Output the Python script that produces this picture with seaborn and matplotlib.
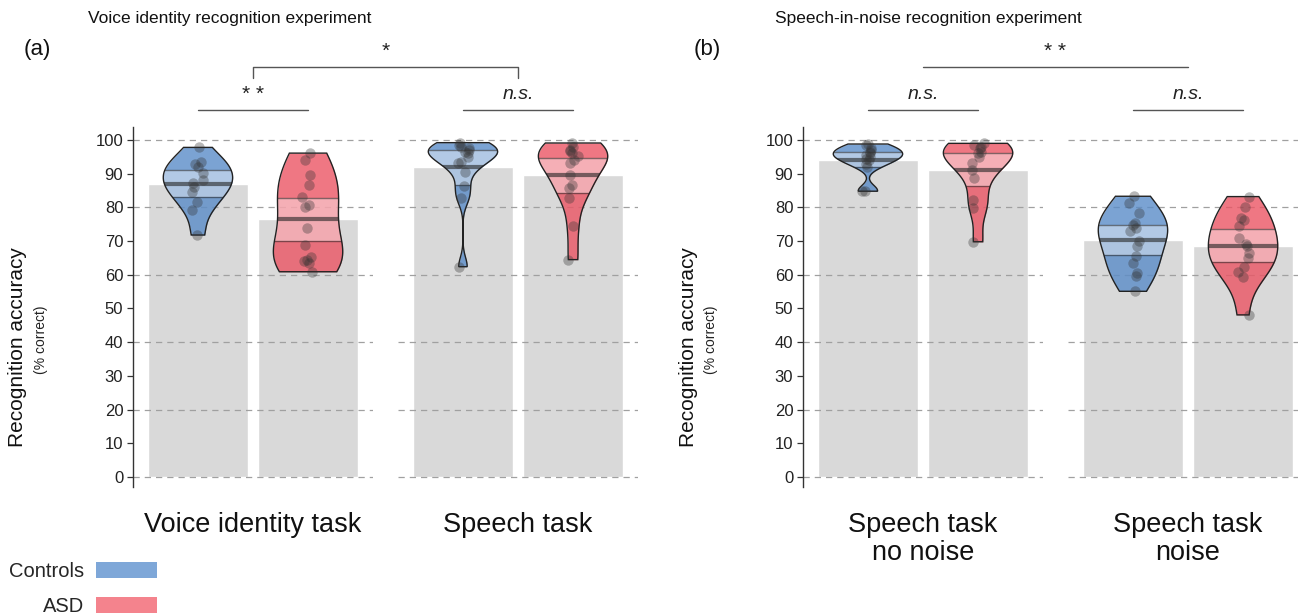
import numpy as np
import pandas as pd
import matplotlib
matplotlib.use("Agg")
import matplotlib.pyplot as plt
import seaborn as sns
from matplotlib.patches import Rectangle, Patch, PathPatch
from matplotlib.lines import Line2D

# ---------------- data ----------------
groups = ["Controls", "ASD"]
tasks_a = ["Voice identity task", "Speech task"]
tasks_b = ["Speech task\nno noise", "Speech task\nnoise"]

ctrl_voice = [97.8, 93.6, 92.9, 92.1, 90.1, 88.0, 87.1, 86.0, 84.7, 81.7, 79.2, 71.8]
asd_voice = [96.1, 94.1, 89.6, 86.6, 83.2, 80.7, 80.2, 73.8, 68.8, 65.4, 64.4, 64.0, 63.4, 60.9]
ctrl_speech = [99.2, 98.5, 98.0, 97.5, 97.0, 96.5, 96.1, 95.0, 93.6, 93.1, 90.6, 86.2, 82.7, 62.4]
asd_speech = [99.1, 98.0, 97.1, 96.6, 96.1, 95.2, 94.2, 93.2, 89.7, 86.7, 85.8, 82.8, 74.4, 64.5]
ctrl_nonoise = [98.8, 98.5, 97.5, 97.0, 96.5, 96.0, 95.5, 95.0, 94.5, 94.0, 93.0, 92.0, 85.0, 84.8]
asd_nonoise = [99.0, 98.5, 98.0, 97.5, 96.5, 96.0, 95.0, 93.3, 91.1, 88.6, 82.2, 79.7, 69.8]
ctrl_noise = [83.3, 81.3, 78.3, 75.4, 74.9, 74.0, 72.9, 69.9, 68.5, 65.5, 63.5, 60.5, 59.6, 55.1]
asd_noise = [83.2, 80.0, 76.8, 76.3, 74.5, 70.8, 69.1, 68.5, 66.4, 64.9, 62.4, 60.9, 59.3, 48.1]

yticks = list(range(0, 101, 10))
sig_a = ["* *", "n.s."]
sig_a_between = "*"
sig_b = ["n.s.", "n.s."]
sig_b_between = "* *"

# ---------------- style ----------------
sns.set_theme(style="white")
plt.rcParams["font.family"] = ["Liberation Sans", "DejaVu Sans"]

violin_cols = {"Controls": "#5A8CC8", "ASD": "#EB5564"}
legend_cols = {"Controls": "#7EA7D8", "ASD": "#F4838D"}
bar_col = "#D9D9D9"
dark = "#222222"

W, H = 1298, 614
fig = plt.figure(figsize=(W / 100, H / 100), dpi=100)

YLIM = (-3, 104)
y_bottom_px, y_top_px = 487.1, 126.5


def add_ax(left_px):
    return fig.add_axes([left_px / W, (H - y_bottom_px) / H, 240 / W,
                         (y_bottom_px - y_top_px) / H])


def nrd0(x):
    x = np.asarray(x, float)
    sd = np.std(x, ddof=1)
    iqr = np.subtract(*np.percentile(x, [75, 25]))
    lo = min(sd, iqr / 1.34) if iqr > 0 else sd
    return 0.9 * lo * len(x) ** (-0.2)


def draw_facet(ax, ctrl, asd, label, show_y):
    df = pd.DataFrame({
        "group": ["Controls"] * len(ctrl) + ["ASD"] * len(asd),
        "value": list(ctrl) + list(asd),
    })
    sns.barplot(data=df, x="group", y="value", order=groups, color=bar_col,
                saturation=1, errorbar=None, width=0.91, ax=ax, zorder=1)
    for v in range(0, 101, 20):
        ax.axhline(v, color="#A0A0A0", lw=0.9, ls=(0, (5, 4)), zorder=1.5)

    for gi, (g, vals) in enumerate(zip(groups, [ctrl, asd])):
        vals = np.asarray(vals, float)
        sub = df[df["group"] == g]
        n_before = len(ax.collections)
        factor = 1.15 * nrd0(vals) / np.std(vals, ddof=1)
        sns.violinplot(data=sub, x="group", y="value", order=groups,
                       color=violin_cols[g], saturation=1, cut=0, inner=None,
                       density_norm="width", width=0.63, linewidth=0,
                       bw_method=factor, ax=ax)
        coll = ax.collections[n_before]
        fc = np.array(coll.get_facecolor())
        fc[:, 3] = 0.8
        coll.set_facecolor(fc)
        coll.set_zorder(2)
        path = coll.get_paths()[0]
        tr = coll.get_transform()

        m = vals.mean()
        se = vals.std(ddof=1) / np.sqrt(len(vals))
        lo, hi = m - 1.96 * se, m + 1.96 * se
        band = Rectangle((gi - 0.5, lo), 1.0, hi - lo, facecolor="white",
                         alpha=0.42, edgecolor="none", zorder=2.1)
        ax.add_patch(band)
        band.set_clip_path(path, tr)
        for yv, lw, a in [(lo, 1.0, 0.55), (hi, 1.0, 0.55), (m, 3.0, 0.6)]:
            ln, = ax.plot([gi - 0.5, gi + 0.5], [yv, yv], color=dark, lw=lw,
                          alpha=a, zorder=2.2, solid_capstyle="butt")
            ln.set_clip_path(path, tr)
        outline = PathPatch(path, transform=tr, facecolor="none",
                            edgecolor=dark, lw=1.0, zorder=2.3)
        ax.add_patch(outline)

    sns.stripplot(data=df, x="group", y="value", order=groups, color="#333333",
                  alpha=0.35, size=7.5, jitter=0.06, linewidth=0, ax=ax, zorder=3)

    ax.set_xlim(-0.59, 1.59)
    ax.set_ylim(*YLIM)
    ax.set_xticks([])
    ax.set_ylabel("")
    ax.set_xlabel(label, fontsize=19.5, labelpad=18, linespacing=1.12,
                  color="#111111")
    for s in ["top", "right", "bottom"]:
        ax.spines[s].set_visible(False)
    if show_y:
        ax.spines["left"].set_color("#333333")
        ax.spines["left"].set_linewidth(1.0)
        ax.set_yticks(yticks)
        ax.set_yticklabels([str(t) for t in yticks])
        ax.tick_params(axis="y", length=4, width=0.9, color="#333333",
                       labelsize=12, labelcolor="#222222", pad=3, left=True)
    else:
        ax.spines["left"].set_visible(False)
        ax.set_yticks([])


np.random.seed(3)
axA1 = add_ax(133)
axA2 = add_ax(398)
axB1 = add_ax(803)
axB2 = add_ax(1068)
draw_facet(axA1, ctrl_voice, asd_voice, tasks_a[0], True)
draw_facet(axA2, ctrl_speech, asd_speech, tasks_a[1], False)
draw_facet(axB1, ctrl_nonoise, asd_nonoise, tasks_b[0], True)
draw_facet(axB2, ctrl_noise, asd_noise, tasks_b[1], False)


def to_fig(ax, x, y):
    return fig.transFigure.inverted().transform(ax.transData.transform((x, y)))


line_col = "#555555"
for ax, s in [(axA1, sig_a[0]), (axA2, sig_a[1]), (axB1, sig_b[0]), (axB2, sig_b[1])]:
    ax.plot([0, 1], [109, 109], color=line_col, lw=1.0, clip_on=False)
    style = "italic" if s.startswith("n") else "normal"
    ax.text(0.5, 113.6, s, ha="center", va="center", fontsize=14 if s.startswith("n") else 15,
            style=style, color="#222222", clip_on=False)


def between(ax1, ax2, text, ticks):
    p1 = to_fig(ax1, 0.5, 121.7)
    p2 = to_fig(ax2, 0.5, 121.7)
    if ticks:
        q1 = to_fig(ax1, 0.5, 118.4)
        q2 = to_fig(ax2, 0.5, 118.4)
        xs = [q1[0], p1[0], p2[0], q2[0]]
        ys = [q1[1], p1[1], p2[1], q2[1]]
    else:
        xs = [p1[0], p2[0]]
        ys = [p1[1], p2[1]]
    fig.add_artist(Line2D(xs, ys, color=line_col, lw=1.0, transform=fig.transFigure))
    tp = to_fig(ax1, 0.5, 126.3)
    fig.text((p1[0] + p2[0]) / 2, tp[1], text, ha="center", va="center",
             fontsize=15, color="#222222")


between(axA1, axA2, sig_a_between, True)
between(axB1, axB2, sig_b_between, False)

# titles and panel letters
fig.text(88 / W, 1 - 18 / H, "Voice identity recognition experiment",
         ha="left", va="center", fontsize=12.5, color="#111111")
fig.text(775 / W, 1 - 18 / H, "Speech-in-noise recognition experiment",
         ha="left", va="center", fontsize=12.5, color="#111111")
fig.text(24 / W, 1 - 50 / H, "(a)", ha="left", va="center", fontsize=16, color="#111111")
fig.text(694 / W, 1 - 50 / H, "(b)", ha="left", va="center", fontsize=16, color="#111111")

# y labels
for xl, xs in [(18, 41), (688, 711)]:
    fig.text(xl / W, 1 - 347 / H, "Recognition accuracy", rotation=90,
             ha="center", va="center", fontsize=15, color="#111111")
    fig.text(xs / W, 1 - 340 / H, "(% correct)", rotation=90,
             ha="center", va="center", fontsize=10, color="#222222")

# legend
handles = [Patch(facecolor=legend_cols[g], edgecolor="none") for g in groups]
fig.legend(handles, groups, markerfirst=False, frameon=False, loc="upper left",
           bbox_to_anchor=(9 / W, 1 - 562 / H), fontsize=14.5, handlelength=3.0,
           handleheight=0.85, labelspacing=0.8, handletextpad=0.6,
           borderaxespad=0, borderpad=0)

fig.savefig("out.png", dpi=100)
